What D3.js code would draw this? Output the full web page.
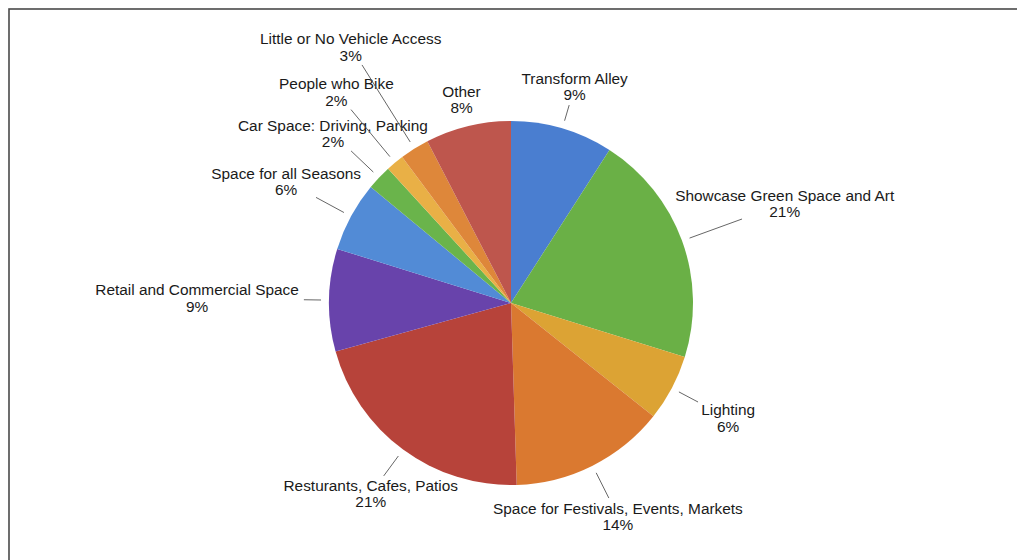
<!DOCTYPE html>
<html lang="en">
<head>
<meta charset="utf-8">
<script src="https://d3js.org/d3.v7.min.js"></script>
<style>
  body { margin: 0; background: #fff; }
  text { font-family: "Liberation Sans", Arial, sans-serif; font-size: 15.4px; fill: #1a1a1a; }
</style>
</head>
<body>
<script>

// slices, clockwise from 12 o'clock
var categories = [
  "Transform Alley",
  "Showcase Green Space and Art",
  "Lighting",
  "Space for Festivals, Events, Markets",
  "Resturants, Cafes, Patios",
  "Retail and Commercial Space",
  "Space for all Seasons",
  "Car Space: Driving, Parking",
  "People who Bike",
  "Little or No Vehicle Access",
  "Other"
];
var values = [9.1, 20.7, 5.9, 13.8, 21.2, 9.1, 6.2, 2.2, 1.6, 2.6, 7.6];

var palette = ["#4a7ed0", "#6ab046", "#dca334", "#da7930", "#b7433a", "#6843ab",
               "#528bd6", "#6ab44b", "#e9b046", "#de873a", "#be564d"];

// where each label sits, as a multiple of the pie radius (labels were moved by hand)
var labelRadius = [1.24, 1.60, 1.35, 1.31, 1.30, 1.725, 1.405, 1.35, 1.505, 1.66, 1.15];

var width = 1017, height = 560;
var cx = 511, cy = 303, r = 182;

var svg = d3.select("body").append("svg")
  .attr("width", width)
  .attr("height", height);

// frame round the chart, runs off the right and bottom
svg.append("rect")
  .attr("x", 9).attr("y", 9)
  .attr("width", 1100).attr("height", 700)
  .attr("fill", "none")
  .attr("stroke", "#4a4a4a")
  .attr("stroke-width", 1.6);

var data = categories.map(function(c, i) { return {name: c, value: values[i], i: i}; });
var total = d3.sum(values);
var pct = d3.format(".0%");

var color = d3.scaleOrdinal().domain(categories).range(palette);

var pie = d3.pie().sort(null).value(function(d) { return d.value; });
var arcs = pie(data);

var arc = d3.arc().innerRadius(0).outerRadius(r);

var g = svg.append("g").attr("transform", "translate(" + cx + "," + cy + ")");

g.selectAll("path.slice")
  .data(arcs)
  .enter().append("path")
  .attr("class", "slice")
  .attr("d", arc)
  .attr("fill", function(d) { return color(d.data.name); });

function midAngle(d) { return (d.startAngle + d.endAngle) / 2; }

var labels = g.selectAll("text.lbl")
  .data(arcs)
  .enter().append("text")
  .attr("class", "lbl")
  .attr("text-anchor", "middle")
  .attr("transform", function(d) {
    var k = labelRadius[d.data.i] * r;
    var c = d3.arc().innerRadius(k).outerRadius(k).centroid(d);
    return "translate(" + c[0] + "," + c[1] + ")";
  });

labels.append("tspan")
  .attr("x", 0).attr("y", -2.6)
  .text(function(d) { return d.data.name; });
labels.append("tspan")
  .attr("x", 0).attr("y", 13.8)
  .text(function(d) { return pct(d.data.value / total); });

// leader lines: radial, from just outside the pie to the label's box
labels.each(function(d) {
  var bb = this.getBBox();
  var k = labelRadius[d.data.i] * r;
  var c = d3.arc().innerRadius(k).outerRadius(k).centroid(d);
  var x0 = c[0] + bb.x, x1 = x0 + bb.width;
  var y0 = c[1] + bb.y + 3, y1 = c[1] + bb.y + bb.height - 3;
  var a = midAngle(d);
  var ux = Math.sin(a), uy = -Math.cos(a);
  // ray / box entry
  var tmin = 0, tmax = Infinity;
  [[ux, x0, x1], [uy, y0, y1]].forEach(function(s) {
    if (Math.abs(s[0]) < 1e-9) return;
    var t1 = s[1] / s[0], t2 = s[2] / s[0];
    tmin = Math.max(tmin, Math.min(t1, t2));
    tmax = Math.min(tmax, Math.max(t1, t2));
  });
  var start = r + 8, end = tmin - 5;
  if (end - start < 4) return;
  g.append("line")
    .attr("x1", ux * start).attr("y1", uy * start)
    .attr("x2", ux * end).attr("y2", uy * end)
    .attr("stroke", "#555")
    .attr("stroke-width", 0.9);
});

</script>
</body>
</html>
